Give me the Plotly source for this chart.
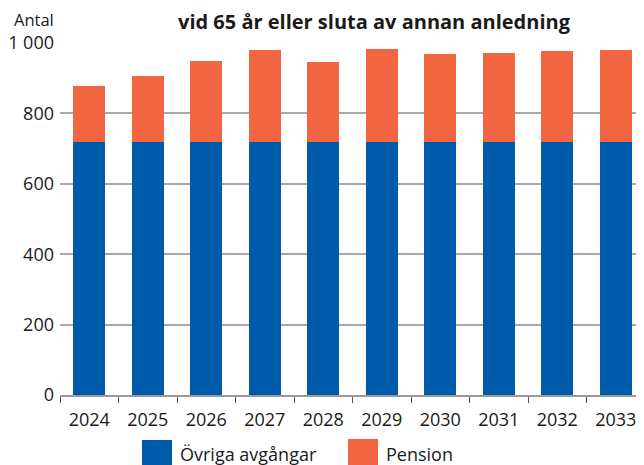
import plotly.graph_objects as go

years = ["2024", "2025", "2026", "2027", "2028", "2029", "2030", "2031", "2032", "2033"]
ovriga = [718, 718, 718, 718, 718, 718, 718, 718, 718, 718]
pension = [161, 187, 232, 263, 229, 266, 252, 255, 258, 261]
ytick_vals = [0, 200, 400, 600, 800, 1000]
ytick_text = ["0", "200", "400", "600", "800", "1 000"]
series_names = ["Övriga avgångar", "Pension"]

BLUE = "#005AAA"
ORANGE = "#F26641"
FONT = "Open Sans"
TXT = "#1a1a1a"

# page offset (browser default body margin)
OFF = 8
W, H = 644, 465
ml, mr, mt, mb = 52, 7, 35, 78
PW, PH = W - ml - mr, H - mt - mb


def px(xw):
    return (xw - OFF - ml) / PW


def py(yw):
    return 1 - (yw - OFF - mt) / PH


fig = go.Figure()
fig.add_trace(go.Bar(x=years, y=ovriga, name=series_names[0], marker=dict(color=BLUE, line=dict(width=0)), showlegend=False))
fig.add_trace(go.Bar(x=years, y=pension, name=series_names[1], marker=dict(color=ORANGE, line=dict(width=0)), showlegend=False))

fig.update_layout(
    width=W, height=H,
    margin=dict(l=ml, r=mr, t=mt, b=mb, pad=0, autoexpand=False),
    barmode="stack",
    bargap=0.453,
    paper_bgcolor="white",
    plot_bgcolor="white",
    font=dict(family=FONT, size=18, color=TXT),
    showlegend=False,
    xaxis=dict(
        type="category",
        showgrid=False,
        showline=True, linecolor="#9a9a9a", linewidth=1.5,
        ticks="outside", tickson="boundaries", ticklen=6, tickcolor="#555555", tickwidth=1,
        ticklabelstandoff=8,
        tickfont=dict(size=18, family=FONT, color=TXT),
        fixedrange=True,
    ),
    yaxis=dict(
        range=[0, 1000],
        tickvals=ytick_vals, ticktext=ytick_text,
        showgrid=True, gridcolor="#a8a8a8", gridwidth=1.5,
        zeroline=False,
        showline=False,
        ticks="", ticklabelstandoff=5,
        tickfont=dict(size=18, family=FONT, color=TXT),
        fixedrange=True,
    ),
)

fig.add_annotation(
    text="Antal", xref="paper", yref="paper",
    x=px(56), xanchor="right", y=py(20), yanchor="middle",
    showarrow=False, font=dict(size=16.5, family=FONT, color=TXT),
)
fig.add_annotation(
    text="<b>vid 65 år eller sluta av annan anledning</b>", xref="paper", yref="paper",
    x=px(374), xanchor="center", y=py(21.5), yanchor="middle",
    showarrow=False, font=dict(size=20, family=FONT, color=TXT),
)

# custom legend
legend_items = [(series_names[0], BLUE, 142, 440), (series_names[1], ORANGE, 348, 439)]
for name, col, x0, y0 in legend_items:
    fig.add_shape(type="rect", xref="paper", yref="paper",
                  x0=px(x0), x1=px(x0 + 30), y0=py(y0), y1=py(y0 + 29),
                  fillcolor=col, line=dict(width=0), layer="above")
    fig.add_annotation(text=name, xref="paper", yref="paper",
                       x=px(x0 + 36), xanchor="left", y=py(454), yanchor="middle",
                       showarrow=False, font=dict(size=18, family=FONT, color=TXT))

fig.write_html("out.html")
